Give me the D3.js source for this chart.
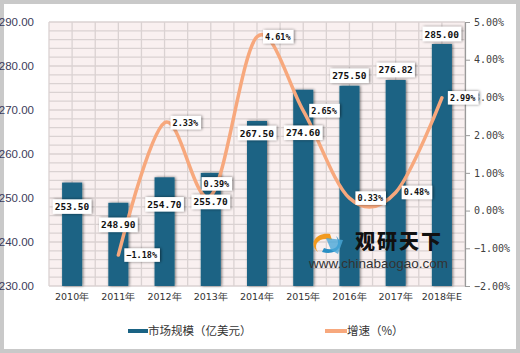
<!DOCTYPE html>
<html><head><meta charset="utf-8">
<script src="https://cdn.jsdelivr.net/npm/d3@7/dist/d3.min.js"></script>
<style>body{margin:0;background:#fff}svg{display:block}</style>
</head><body>
<script>
const categories = ["2010年","2011年","2012年","2013年","2014年","2015年","2016年","2017年","2018年E"];
const marketSize = [253.5, 248.9, 254.7, 255.7, 267.5, 274.6, 275.5, 276.82, 285.0];
const growth = [null, -1.18, 2.33, 0.39, 4.61, 2.65, 0.33, 0.48, 2.99];
const leftTicks = [230, 240, 250, 260, 270, 280, 290];
const rightTicks = [-2, -1, 0, 1, 2, 3, 4, 5];
const seriesNames = ["市场规模（亿美元）", "增速（%）"];

// label placement (style, not data)
const barLabelDy = [24, 22, 27, 29, 12, 43, -10, -10, -10];
const lineLabelPos = ["r","r","r","t","r","r","r","r","r"];

const W = 520, H = 353;
const m = {l: 49, r: 465, t: 22, b: 286};
const svg = d3.select("body").append("svg").attr("width", W).attr("height", H);
const defs = svg.append("defs");
const f = defs.append("filter").attr("id","sh").attr("x","-30%").attr("y","-30%").attr("width","160%").attr("height","160%");
f.append("feGaussianBlur").attr("in","SourceAlpha").attr("stdDeviation",1.6).attr("result","b");
f.append("feOffset").attr("in","b").attr("dx",0.5).attr("dy",-0.5).attr("result","o");
f.append("feComponentTransfer").attr("in","o").attr("result","o2").append("feFuncA").attr("type","linear").attr("slope",0.55);
const fm = f.append("feMerge"); fm.append("feMergeNode").attr("in","o2"); fm.append("feMergeNode").attr("in","SourceGraphic");

// frame
svg.append("rect").attr("x",2).attr("y",2).attr("width",W-4).attr("height",H-4)
  .attr("fill","#fff").attr("stroke","#c9c9c9").attr("stroke-width",4);

const x = d3.scaleBand().domain(categories).range([m.l, m.r]).padding(0);
const yL = d3.scaleLinear().domain([230, 290]).range([m.b, m.t]);
const yR = d3.scaleLinear().domain([-2, 5]).range([m.b, m.t]);

// plot background
svg.append("rect").attr("x",m.l).attr("y",m.t).attr("width",m.r-m.l).attr("height",m.b-m.t).attr("fill","#f9f0f0");
const g = svg.append("g");
d3.range(230, 291, 2).forEach(v => {
  g.append("line").attr("x1",m.l).attr("x2",m.r).attr("y1",yL(v)).attr("y2",yL(v))
    .attr("stroke","#dad2d2").attr("stroke-width",1.3);
});
d3.range(0, categories.length*2+1).forEach(k => {
  const xx = m.l + k*x.bandwidth()/2;
  g.append("line").attr("x1",xx).attr("x2",xx).attr("y1",m.t).attr("y2",m.b)
    .attr("stroke","#dad2d2").attr("stroke-width",1.3);
});

// left axis labels
svg.append("g").attr("transform",`translate(${m.l-12},0)`)
  .call(d3.axisLeft(yL).tickValues(leftTicks).tickFormat(d3.format(".2f")).tickSize(0))
  .call(s=>s.select(".domain").remove())
  .call(s=>s.selectAll("text").attr("font-family","Liberation Sans, Arial").attr("font-size",11.5).attr("fill","#3b3b5a"));

// right axis
const ra = svg.append("g").attr("transform",`translate(${m.r},0)`)
  .call(d3.axisRight(yR).tickValues(rightTicks).tickFormat(d=>d3.format(".2f")(d)+"%").tickSize(5).tickPadding(4));
ra.select(".domain").attr("stroke","#9a9a9a").attr("stroke-width",1.2);
ra.selectAll("line").attr("stroke","#9a9a9a");
ra.selectAll("text").attr("font-family","DejaVu Sans Mono, monospace").attr("font-size",10).attr("fill","#404040");

// x labels
svg.append("g").attr("transform",`translate(0,${m.b})`)
  .call(d3.axisBottom(x).tickSize(0).tickPadding(7))
  .call(s=>s.select(".domain").remove())
  .call(s=>s.selectAll("text").attr("font-family","DejaVu Sans, sans-serif").attr("font-size",9.5).attr("fill","#333"));

// bars
const bw = 20;
svg.append("g").selectAll("rect").data(marketSize).join("rect")
  .attr("x",(d,i)=>x(categories[i])+x.bandwidth()/2-bw/2)
  .attr("y",d=>yL(d)).attr("width",bw).attr("height",d=>m.b-yL(d))
  .attr("fill","#1a6384").attr("filter","url(#sh)");

// watermark
const wm = svg.append("g");
wm.append("path").attr("d","M330,234 C316,232 308,244 318,252 C312,244 320,236 332,240 Z").attr("fill","#f29a1f");
wm.append("path").attr("d","M322,252 C336,256 346,246 336,236 C342,246 334,252 324,248 Z").attr("fill","#2a8fc4");
wm.append("path").attr("d","M326,238 L343,240 L338,254 L331,250 Z").attr("fill","#4aa8d8").attr("opacity",0.8);
wm.append("text").attr("x",355).attr("y",249).text("观研天下")
  .attr("font-family","Noto Sans CJK SC").attr("font-weight",900).attr("font-size",20).attr("fill","#111").attr("letter-spacing",2);
wm.append("text").attr("x",309).attr("y",268).text("www.chinabaogao.com")
  .attr("font-family","Liberation Sans, Arial").attr("font-size",13.5).attr("fill","#333").attr("textLength",139);

// line
const pts = growth.map((v,i)=>v==null?null:[x(categories[i])+x.bandwidth()/2, yR(v), v, i]).filter(Boolean);
svg.append("path").attr("d", d3.line().curve(d3.curveCardinal.tension(0))(pts.map(p=>[p[0],p[1]])))
  .attr("fill","none").attr("stroke","#f7a87d").attr("stroke-width",3.5).attr("stroke-linecap","round");

function labelBox(cx, cy, txt, fs, anchorLeft) {
  const gg = svg.append("g");
  const t = gg.append("text").text(txt).attr("font-family","DejaVu Sans Mono, monospace")
    .attr("font-weight","bold").attr("font-size",fs).attr("fill","#111").attr("dominant-baseline","central");
  const bb = t.node().getBBox();
  const w = bb.width + 4, h = fs + 5;
  const lx = anchorLeft ? cx : cx - w/2;
  gg.insert("rect","text").attr("x",lx).attr("y",cy-h/2).attr("width",w).attr("height",h)
    .attr("fill","#fff").attr("filter","url(#sh)");
  t.attr("x", lx+2).attr("y", cy);
}

// bar labels
marketSize.forEach((v,i)=>{
  const cx = x(categories[i])+x.bandwidth()/2;
  labelBox(cx, yL(v)+barLabelDy[i], d3.format(".2f")(v), 9.5, false);
});
// line labels
pts.forEach(p=>{
  const pos = lineLabelPos[p[3]];
  const txt = d3.format(".2f")(p[2])+"%";
  if (pos === "t") labelBox(p[0]+6, p[1]-12, txt, 8.5, false);
  else labelBox(p[0]+6, p[1], txt, 8.5, true);
});

// legend
const lg = svg.append("g").attr("font-family","Noto Sans CJK SC").attr("font-size",11.5).attr("fill","#333");
lg.append("rect").attr("x",128).attr("y",329).attr("width",20).attr("height",4).attr("fill","#1a6384");
lg.append("text").attr("x",148).attr("y",335).text(seriesNames[0]);
lg.append("rect").attr("x",325).attr("y",329).attr("width",22).attr("height",4).attr("fill","#f7a87d");
lg.append("text").attr("x",347).attr("y",335).text(seriesNames[1]);
</script>
</body></html>
